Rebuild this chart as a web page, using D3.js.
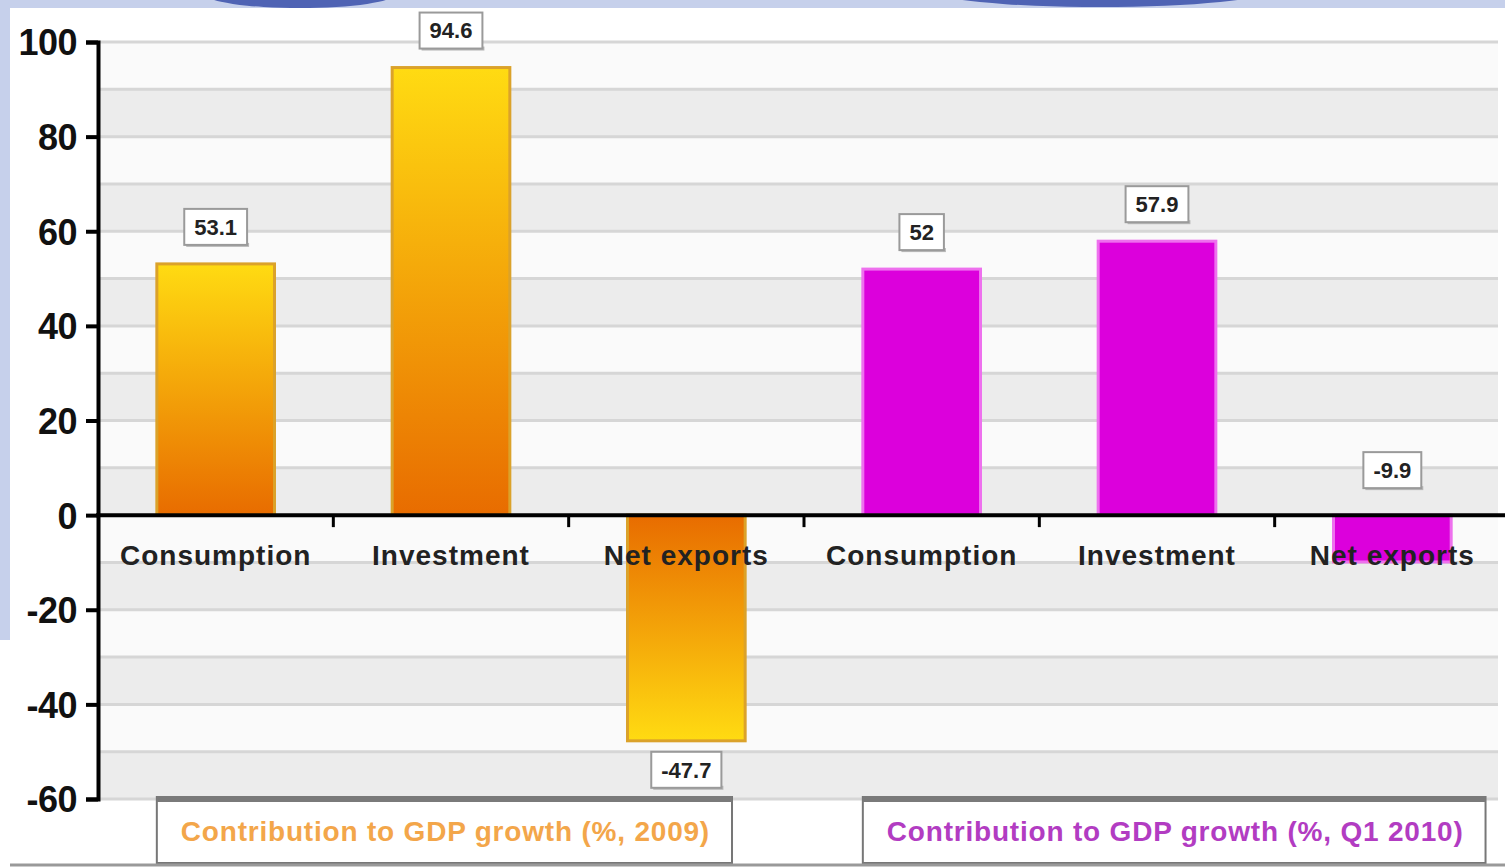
<!DOCTYPE html>
<html lang="en">
<head>
  <meta charset="utf-8">
  <title>Contribution to GDP growth</title>
  <script src="https://cdn.jsdelivr.net/npm/d3@7/dist/d3.min.js"></script>
  <style>
    html, body { margin: 0; padding: 0; background: #fff; }
    svg { display: block; font-family: "Liberation Sans", Arial, sans-serif; }
  </style>
</head>
<body>
  <div id="chart"></div>
  <script>
    // data
    var components = ["Consumption", "Investment", "Net exports"];
    var values2009 = [53.1, 94.6, -47.7];
    var valuesQ12010 = [52, 57.9, -9.9];
    var seriesNames = ["Contribution to GDP growth (%, 2009)", "Contribution to GDP growth (%, Q1 2010)"];
    var yTicks = [-60, -40, -20, 0, 20, 40, 60, 80, 100];

    var W = 1505, H = 867;
    var svg = d3.select("#chart").append("svg").attr("width", W).attr("height", H);
    var defs = svg.append("defs");

    // slide background bits
    svg.append("rect").attr("x", 0).attr("y", 0).attr("width", W).attr("height", H).attr("fill", "#fff");
    svg.append("rect").attr("x", 0).attr("y", 0).attr("width", W).attr("height", 8).attr("fill", "#c6d0eb");
    svg.append("rect").attr("x", 0).attr("y", 0).attr("width", 10).attr("height", 640).attr("fill", "#c6d0eb");
    svg.append("ellipse").attr("cx", 300).attr("cy", -6).attr("rx", 95).attr("ry", 14).attr("fill", "#4f63b4");
    svg.append("ellipse").attr("cx", 1100).attr("cy", -10).attr("rx", 170).attr("ry", 17).attr("fill", "#4f63b4");

    var series = [
      { name: seriesNames[0], values: values2009, key: "a", text: "#f3a64a" },
      { name: seriesNames[1], values: valuesQ12010, key: "b", text: "#b23cc2" }
    ];
    var rows = [];
    series.forEach(function(s, si) {
      s.values.forEach(function(v, i) {
        rows.push({ id: s.key + i, cat: components[i], value: v, s: si });
      });
    });

    var x = d3.scaleBand().domain(rows.map(function(d) { return d.id; }))
      .range([98, 1510]).paddingInner(0.5).paddingOuter(0.25);
    var y = d3.scaleLinear().domain([-60, 100]).range([799, 42]);

    // striped grid
    var grid = svg.append("g");
    var gt = y.ticks(16);
    gt.forEach(function(t) {
      if (t === 100) return;
      var odd = Math.abs(Math.round((t + 10) / 10)) % 2 === 1;
      grid.append("rect").attr("x", 98).attr("width", 1400)
        .attr("y", y(t + 10)).attr("height", y(t) - y(t + 10))
        .attr("fill", odd ? "#ececec" : "#fafafa");
    });
    gt.forEach(function(t) {
      grid.append("line").attr("x1", 98).attr("x2", 1498)
        .attr("y1", y(t)).attr("y2", y(t))
        .attr("stroke", "#d6d6d6").attr("stroke-width", 3);
    });

    // gradients for the orange bars
    function grad(id, flip) {
      var g = defs.append("linearGradient").attr("id", id)
        .attr("x1", 0).attr("y1", flip ? 1 : 0).attr("x2", 0).attr("y2", flip ? 0 : 1);
      g.append("stop").attr("offset", "0%").attr("stop-color", "#ffdb12");
      g.append("stop").attr("offset", "100%").attr("stop-color", "#e86c00");
    }
    grad("gPos", false);
    grad("gNeg", true);

    // bars
    svg.append("g").selectAll("rect").data(rows).join("rect")
      .attr("x", function(d) { return x(d.id); })
      .attr("width", x.bandwidth())
      .attr("y", function(d) { return y(Math.max(0, d.value)); })
      .attr("height", function(d) { return Math.abs(y(d.value) - y(0)); })
      .attr("fill", function(d) {
        if (d.s === 1) return "#dc00dc";
        return d.value >= 0 ? "url(#gPos)" : "url(#gNeg)";
      })
      .attr("stroke", function(d) { return d.s === 1 ? "#ee70ee" : "#dba22a"; })
      .attr("stroke-width", 3);

    // axes
    var yAxis = svg.append("g").attr("transform", "translate(98,0)")
      .call(d3.axisLeft(y).tickValues(yTicks).tickSize(12).tickPadding(9)
        .tickFormat(function(d) { return String(d); }));
    yAxis.select(".domain").attr("stroke", "#000").attr("stroke-width", 4);
    yAxis.selectAll(".tick line").attr("stroke", "#000").attr("stroke-width", 4);
    yAxis.selectAll(".tick text").attr("fill", "#111").style("font-size", "36px")
      .style("font-weight", "bold").style("letter-spacing", "-0.5px").attr("dy", "0.36em");

    svg.append("line").attr("x1", 96).attr("x2", W).attr("y1", y(0)).attr("y2", y(0))
      .attr("stroke", "#000").attr("stroke-width", 4);
    var gap = (x.step() - x.bandwidth()) / 2;
    d3.range(1, rows.length).forEach(function(i) {
      var xx = x(rows[i].id) - gap;
      svg.append("line").attr("x1", xx).attr("x2", xx).attr("y1", y(0)).attr("y2", y(0) + 12)
        .attr("stroke", "#000").attr("stroke-width", 3);
    });

    // category labels
    svg.append("g").selectAll("text").data(rows).join("text")
      .attr("x", function(d) { return x(d.id) + x.bandwidth() / 2; })
      .attr("y", y(0) + 50)
      .attr("text-anchor", "middle")
      .attr("fill", "#222").style("font-size", "28px").style("font-weight", "bold")
      .style("letter-spacing", "1px")
      .text(function(d) { return d.cat; });

    // value labels
    var lab = svg.append("g").selectAll("g").data(rows).join("g")
      .attr("transform", function(d) {
        var cy;
        if (d.value >= 0) cy = y(d.value) - 37;
        else if (y(d.value) - y(0) < 80) cy = y(0) - 45;
        else cy = y(d.value) + 29;
        return "translate(" + (x(d.id) + x.bandwidth() / 2) + "," + cy + ")";
      });
    lab.append("text").attr("text-anchor", "middle").attr("dy", "0.36em")
      .attr("fill", "#222").style("font-size", "22px").style("font-weight", "bold")
      .text(function(d) { return d.value; });
    lab.each(function() {
      var g = d3.select(this);
      var w = g.select("text").node().getComputedTextLength() + 20;
      g.insert("rect", "text").attr("x", -w / 2).attr("y", -18).attr("width", w).attr("height", 36)
        .attr("fill", "#fff").attr("stroke", "#9a9a9a").attr("stroke-width", 2);
      g.insert("rect", "rect").attr("x", -w / 2 + 2).attr("y", 16).attr("width", w).attr("height", 4)
        .attr("fill", "#b8b8b8");
    });

    // legend boxes
    series.forEach(function(s) {
      var lx = x(s.key + 0);
      var g = svg.append("g").attr("transform", "translate(" + lx + ",797)");
      var t = g.append("text").attr("x", 24).attr("y", 44)
        .attr("fill", s.text).style("font-size", "28px").style("font-weight", "bold")
        .style("letter-spacing", "0.8px")
        .text(s.name);
      var w = t.node().getComputedTextLength() + 46;
      g.insert("rect", "text").attr("x", 0).attr("y", 0).attr("width", w).attr("height", 66)
        .attr("fill", "#fff").attr("stroke", "#777").attr("stroke-width", 2);
      g.insert("rect", "text").attr("x", 0).attr("y", -1).attr("width", w).attr("height", 6)
        .attr("fill", "#7a7a7a");
    });

    // bottom rule
    svg.append("line").attr("x1", 10).attr("x2", W).attr("y1", 865).attr("y2", 865)
      .attr("stroke", "#999").attr("stroke-width", 3);
  </script>
</body>
</html>
